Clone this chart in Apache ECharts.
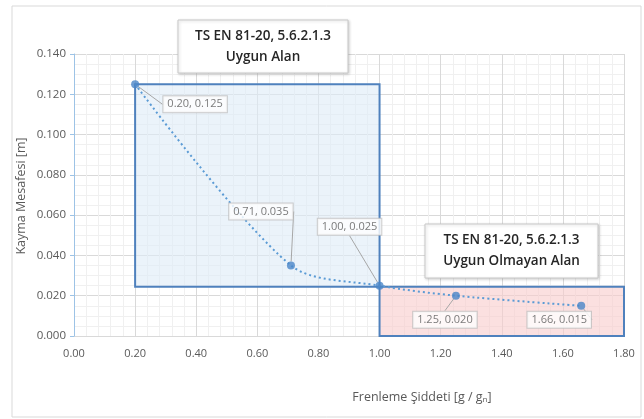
<!DOCTYPE html>
<html>
<head>
<meta charset="utf-8">
<script src="https://cdn.jsdelivr.net/npm/echarts@6/dist/echarts.min.js"></script>
<style>
  html, body { margin: 0; padding: 0; background: #fff; }
  #chart { width: 644px; height: 419px; }
</style>
</head>
<body>
<div id="chart"></div>
<script>
// olcum noktalari
const xVals = [0.20, 0.71, 1.00, 1.25, 1.66];
const yVals = [0.125, 0.035, 0.025, 0.020, 0.015];
// etiket kaydirmalari (px)
const labelShift = [[60, 20], [-30, -54], [-30, -59], [-11, 24], [-22, 14]];
// alanlar
const uygunAlan = [[0.20, 0.0245], [1.00, 0.125]];
const uygunOlmayanAlan = [[1.00, 0], [1.80, 0.0245]];
const xMax = 1.8, yMax = 0.14;

const chartDom = document.getElementById("chart");
const myChart = echarts.init(chartDom);
const FONT = "'Open Sans', 'Noto Sans', sans-serif";

const pts = xVals.map((x, i) => [x, yVals[i]]);

// aciklama kutusu
function noteBox(x, y, w, h, text) {
  return {
    type: "group",
    x: x, y: y,
    children: [
      {
        type: "rect",
        z: 100,
        shape: { x: 0, y: 0, width: w, height: h },
        style: { fill: "#fff", stroke: "#c8c8c8", lineWidth: 1, shadowColor: "rgba(0,0,0,0.18)", shadowBlur: 3, shadowOffsetX: 1, shadowOffsetY: 1 },
      },
      {
        type: "text",
        z: 101,
        x: w / 2, y: h / 2,
        style: { text: text, align: "center", verticalAlign: "middle", fill: "#262626", font: "600 13.5px " + FONT, lineHeight: 21 },
      },
    ],
  };
}

const option = {
  animation: false,
  textStyle: { fontFamily: FONT },
  grid: { left: 74, right: 20, top: 54, bottom: 83 },
  xAxis: {
    type: "value",
    min: 0,
    max: xMax,
    interval: 0.2,
    axisLine: { show: false },
    axisTick: { show: false },
    axisLabel: { color: "#595959", fontSize: 11, margin: 12, formatter: v => v.toFixed(2) },
    splitLine: { lineStyle: { color: "#d9d9d9" } },
    minorTick: { show: false, splitNumber: 5 },
    minorSplitLine: { show: true, lineStyle: { color: "#f0f0f0" } },
  },
  yAxis: {
    type: "value",
    min: 0,
    max: yMax,
    interval: 0.02,
    axisLine: { show: true, lineStyle: { color: "#9dc3e6", width: 1 } },
    axisTick: { show: true, length: 4, lineStyle: { color: "#9dc3e6" } },
    axisLabel: { color: "#595959", fontSize: 11.5, margin: 8, formatter: v => v.toFixed(3) },
    splitLine: { lineStyle: { color: "#d9d9d9" } },
    minorTick: { show: false, splitNumber: 4 },
    minorSplitLine: { show: true, lineStyle: { color: "#f0f0f0" } },
  },
  graphic: [
    {
      type: "rect",
      shape: { x: 12, y: 6, width: 629, height: 411 },
      style: { fill: "none", stroke: "#d9d9d9", lineWidth: 1 },
      z: -1,
    },
    {
      type: "text",
      rotation: Math.PI / 2,
      x: 15, y: 196,
      style: { text: "Kayma Mesafesi [m]", fill: "#595959", font: "12.5px " + FONT, align: "center", verticalAlign: "top" },
    },
    {
      type: "text",
      x: 422, y: 397,
      style: { text: "Frenleme Şiddeti [g / gₙ]", fill: "#595959", font: "12.5px " + FONT, align: "center", verticalAlign: "middle" },
    },
    noteBox(178, 20, 170, 53, "TS EN 81-20, 5.6.2.1.3\nUygun Alan"),
    noteBox(425, 224, 173, 54, "TS EN 81-20, 5.6.2.1.3\nUygun Olmayan Alan"),
  ],
  series: [
    {
      name: "alanlar",
      type: "line",
      data: [],
      markArea: {
        silent: true,
        data: [
          [
            { coord: uygunAlan[0], itemStyle: { color: "rgba(221,235,247,0.6)", borderColor: "#4f81bd", borderWidth: 2 } },
            { coord: uygunAlan[1] },
          ],
          [
            { coord: uygunOlmayanAlan[0], itemStyle: { color: "rgba(248,203,203,0.6)", borderColor: "#4f81bd", borderWidth: 2 } },
            { coord: uygunOlmayanAlan[1] },
          ],
        ],
      },
    },
    {
      name: "egri",
      type: "line",
      data: pts,
      smooth: 0.3,
      symbol: "none",
      lineStyle: { color: "#5b9bd5", width: 2, type: [2, 3] },
      z: 3,
    },
    {
      name: "noktalar",
      type: "scatter",
      data: pts,
      symbolSize: 8,
      itemStyle: { color: "#4a86c8" },
      z: 5,
      label: {
        show: true,
        position: "inside",
        formatter: p => p.value[0].toFixed(2) + ", " + p.value[1].toFixed(3),
        color: "#595959",
        fontSize: 11,
        backgroundColor: "#fff",
        borderColor: "#bfbfbf",
        borderWidth: 1,
        padding: [3, 4, 2, 4],
      },
      labelLine: { show: true, lineStyle: { color: "#a6a6a6", width: 1 } },
      labelLayout: p => ({ dx: labelShift[p.dataIndex][0], dy: labelShift[p.dataIndex][1] }),
    },
  ],
};

option && myChart.setOption(option, true);
</script>
</body>
</html>
